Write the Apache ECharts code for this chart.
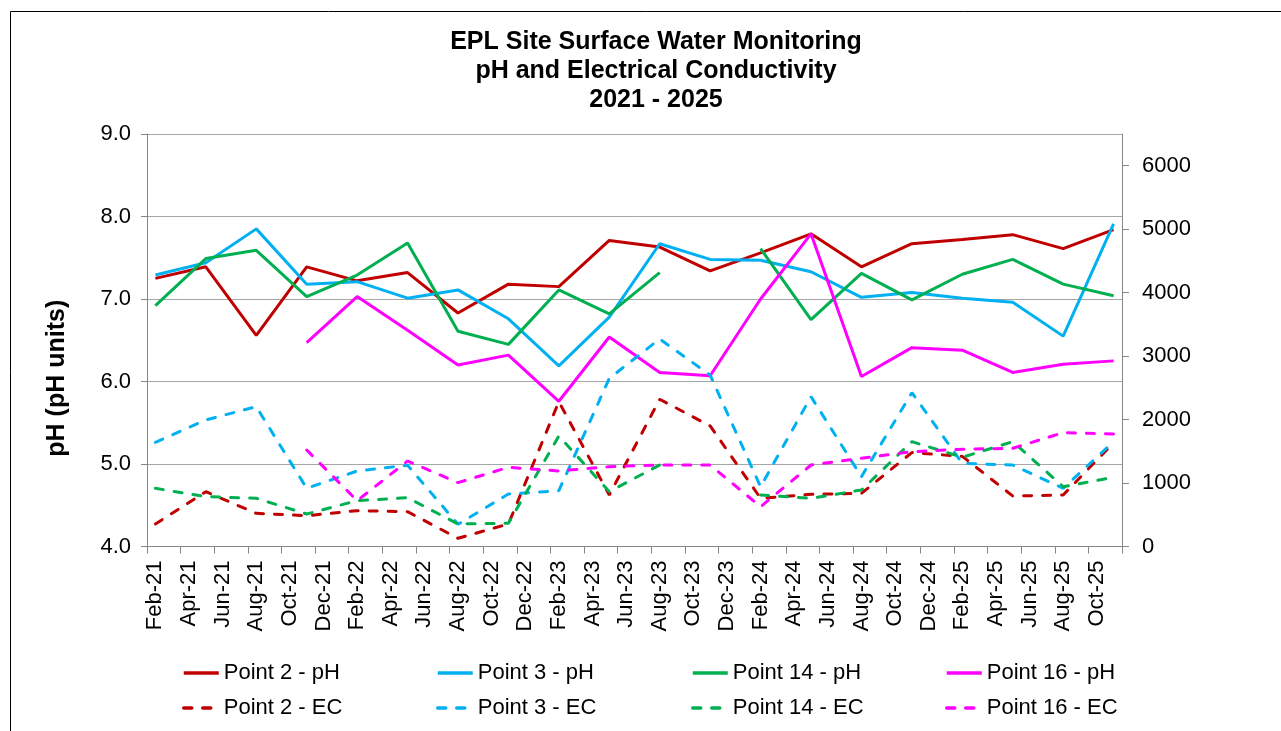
<!DOCTYPE html>
<html>
<head>
<meta charset="utf-8">
<script src="https://cdn.jsdelivr.net/npm/echarts@6/dist/echarts.min.js"></script>
<style>
html,body{margin:0;padding:0;background:#fff;}
#chart{width:1281px;height:731px;}
</style>
</head>
<body>
<div id="chart"></div>
<script>
// Monthly category axis (labels shown every second month)
const months = ['Feb-21','Mar-21','Apr-21','May-21','Jun-21','Jul-21','Aug-21','Sep-21','Oct-21','Nov-21','Dec-21',
  'Jan-22','Feb-22','Mar-22','Apr-22','May-22','Jun-22','Jul-22','Aug-22','Sep-22','Oct-22','Nov-22','Dec-22',
  'Jan-23','Feb-23','Mar-23','Apr-23','May-23','Jun-23','Jul-23','Aug-23','Sep-23','Oct-23','Nov-23','Dec-23',
  'Jan-24','Feb-24','Mar-24','Apr-24','May-24','Jun-24','Jul-24','Aug-24','Sep-24','Oct-24','Nov-24','Dec-24',
  'Jan-25','Feb-25','Mar-25','Apr-25','May-25','Jun-25','Jul-25','Aug-25','Sep-25','Oct-25','Nov-25'];

// Quarterly sampling dates
const sampleDates = ['Feb-21','May-21','Aug-21','Nov-21','Feb-22','May-22','Aug-22','Nov-22','Feb-23','May-23',
  'Aug-23','Nov-23','Feb-24','May-24','Aug-24','Nov-24','Feb-25','May-25','Aug-25','Nov-25'];

// pH values
const p2pH  = [7.25,7.39,6.56,7.39,7.22,7.32,6.83,7.18,7.15,7.71,7.63,7.34,7.56,7.79,7.39,7.67,7.72,7.78,7.61,7.84];
const p3pH  = [7.29,7.44,7.85,7.18,7.21,7.01,7.11,6.76,6.19,6.78,7.67,7.48,7.47,7.33,7.02,7.08,7.01,6.96,6.55,7.91];
const p14pH = [6.92,7.49,7.59,7.03,7.29,7.68,6.61,6.45,7.11,6.82,7.32,null,7.61,6.75,7.31,6.99,7.30,7.48,7.18,7.04];
const p16pH = [null,null,null,6.47,7.03,6.62,6.20,6.32,5.76,6.54,6.11,6.07,7.00,7.79,6.06,6.41,6.38,6.11,6.21,6.25];

// Electrical conductivity values
const p2EC  = [355,864,523,485,565,549,129,355,2282,812,2320,1900,760,822,838,1480,1420,796,811,1636];
const p3EC  = [1642,1994,2203,917,1190,1280,350,827,880,2650,3270,2700,942,2361,1100,2424,1311,1284,917,1652];
const p14EC = [917,785,760,512,722,769,355,366,1741,864,1285,null,812,760,890,1652,1405,1652,943,1090];
const p16EC = [null,null,null,1521,722,1347,1006,1248,1190,1258,1284,1284,627,1284,1390,1494,1532,1548,1794,1773];

const seriesNames = ['Point 2 - pH','Point 3 - pH','Point 14 - pH','Point 16 - pH',
                     'Point 2 - EC','Point 3 - EC','Point 14 - EC','Point 16 - EC'];
const colors = ['#C00000','#00B0F0','#00B050','#FF00FF'];

const FONT = '"Liberation Sans", Arial, sans-serif';

function pairs(arr){ return sampleDates.map((d,i)=>[d, arr[i]]); }

function mk(name, arr, color, dashed){
  return {
    name: name, type: 'line', data: pairs(arr),
    yAxisIndex: dashed ? 1 : 0,
    symbol: 'none', showSymbol: false, connectNulls: false,
    lineStyle: {color: color, width: 3, type: dashed ? [8, 11] : 'solid', cap: dashed ? 'round' : 'butt'},
    itemStyle: {color: color},
    emphasis: {disabled: true},
    animation: false
  };
}

const series = [
  mk(seriesNames[0], p2pH, colors[0], false),
  mk(seriesNames[1], p3pH, colors[1], false),
  mk(seriesNames[2], p14pH, colors[2], false),
  mk(seriesNames[3], p16pH, colors[3], false),
  mk(seriesNames[4], p2EC, colors[0], true),
  mk(seriesNames[5], p3EC, colors[1], true),
  mk(seriesNames[6], p14EC, colors[2], true),
  mk(seriesNames[7], p16EC, colors[3], true)
];

const legendCols = [177, 431, 686, 940];
const legends = legendCols.map((x, i) => ({
  orient: 'vertical', left: x, top: 657,
  itemWidth: 35, itemHeight: 20, itemGap: 13,
  data: [seriesNames[i], seriesNames[i+4]],
  itemStyle: {opacity: 0},
  lineStyle: {width: 3.5},
  textStyle: {fontFamily: FONT, fontSize: 22, color: '#000'},
  selectedMode: false
}));

const chart = echarts.init(document.getElementById('chart'), null, {renderer: 'canvas'});
chart.setOption({
  backgroundColor: '#fff',
  animation: false,
  title: {
    text: 'EPL Site Surface Water Monitoring\npH and Electrical Conductivity\n2021 - 2025',
    left: 651, top: 23, textAlign: 'center',
    textStyle: {fontFamily: FONT, fontWeight: 'bold', fontSize: 25, lineHeight: 29, color: '#000'}
  },
  legend: legends,
  grid: {left: 147, right: 1281 - 1122, top: 134, bottom: 731 - 546.5, containLabel: false},
  xAxis: {
    type: 'category', data: months, boundaryGap: true,
    axisLine: {lineStyle: {color: '#868686', width: 1}},
    axisTick: {show: true, interval: 1, length: 7, lineStyle: {color: '#868686'}},
    axisLabel: {interval: 1, rotate: 90, margin: 14, fontFamily: FONT, fontSize: 22, color: '#000'},
    splitLine: {show: false}
  },
  yAxis: [
    {
      type: 'value', min: 4, max: 9, interval: 1, position: 'left',
      name: 'pH (pH units)', nameLocation: 'middle', nameRotate: 90, nameGap: 77,
      nameTextStyle: {fontFamily: FONT, fontWeight: 'bold', fontSize: 25, color: '#000', padding: [0, 76, 0, 0]},
      axisLine: {show: true, lineStyle: {color: '#868686'}},
      axisTick: {show: true, length: 6, lineStyle: {color: '#868686'}},
      axisLabel: {fontFamily: FONT, fontSize: 22, color: '#000', margin: 16,
                  formatter: v => v.toFixed(1)},
      splitLine: {show: true, lineStyle: {color: '#A6A6A6', width: 1}}
    },
    {
      type: 'value', min: 0, max: 6500, interval: 1000, position: 'right',
      axisLine: {show: true, lineStyle: {color: '#868686'}},
      axisTick: {show: true, length: 7, lineStyle: {color: '#868686'}},
      axisLabel: {fontFamily: FONT, fontSize: 22, color: '#000', margin: 20, showMaxLabel: false,
                  formatter: v => (v % 1000 === 0 ? String(v) : '')},
      splitLine: {show: false}
    }
  ],
  graphic: [{
    type: 'rect', shape: {x: 10.5, y: 11.5, width: 1300, height: 800},
    style: {fill: 'none', stroke: '#000', lineWidth: 1}, silent: true, z: 100
  }],
  series: series
});
</script>
</body>
</html>
